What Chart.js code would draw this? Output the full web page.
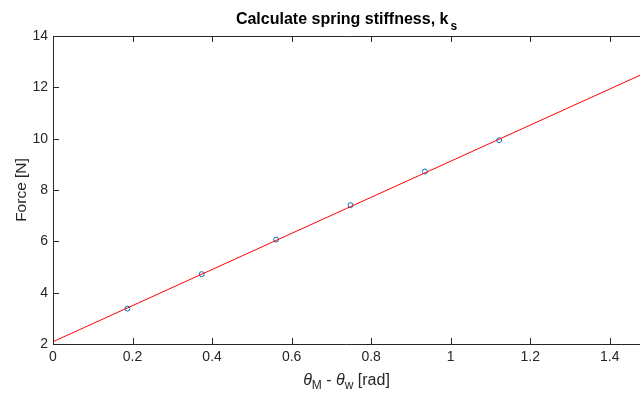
<!DOCTYPE html>
<html>
<head>
<meta charset="utf-8">
<script src="https://cdn.jsdelivr.net/npm/chart.js@4"></script>
<style>
  html, body { margin: 0; padding: 0; background: #fff; }
  #wrap { width: 640px; height: 395px; }
</style>
</head>
<body>
<div id="wrap"><canvas id="springChart"></canvas></div>
<script>
// measured points
const angleDiff = [0.187, 0.374, 0.561, 0.748, 0.935, 1.122];
const force = [3.38, 4.72, 6.07, 7.41, 8.72, 9.94];
// fitted line endpoints
const fitX = [0, 1.476];
const fitY = [2.09, 12.47];
const xTicks = [0, 0.2, 0.4, 0.6, 0.8, 1, 1.2, 1.4];
const yTicks = [2, 4, 6, 8, 10, 12, 14];

const axisColor = '#262626';
const font = '"Liberation Sans", Arial, Helvetica, sans-serif';

// draws box, inward ticks, title and axis labels the MATLAB way
const decorations = {
    id: 'decorations',
    afterDraw(chart) {
        const ctx = chart.ctx;
        const area = chart.chartArea;
        const x = chart.scales.x, y = chart.scales.y;
        ctx.save();
        ctx.strokeStyle = axisColor;
        ctx.lineWidth = 1;
        ctx.beginPath();
        ctx.moveTo(area.left + 0.5, area.top + 0.5);
        ctx.lineTo(area.right, area.top + 0.5);
        ctx.moveTo(area.left + 0.5, area.top);
        ctx.lineTo(area.left + 0.5, area.bottom + 0.5);
        ctx.lineTo(area.right, area.bottom + 0.5);
        xTicks.forEach(v => {
            const px = Math.round(x.getPixelForValue(v)) + 0.5;
            ctx.moveTo(px, area.bottom);
            ctx.lineTo(px, area.bottom - 6);
            ctx.moveTo(px, area.top);
            ctx.lineTo(px, area.top + 6);
        });
        yTicks.forEach(v => {
            const py = Math.round(y.getPixelForValue(v)) + 0.5;
            ctx.moveTo(area.left, py);
            ctx.lineTo(area.left + 6, py);
        });
        ctx.stroke();

        ctx.fillStyle = '#000';
        // title
        ctx.font = 'bold 16px ' + font;
        ctx.textBaseline = 'alphabetic';
        const main = 'Calculate spring stiffness, k';
        const sub = 's';
        const wMain = ctx.measureText(main).width;
        ctx.font = 'bold 12px ' + font;
        const wSub = ctx.measureText(sub).width;
        const tx = (area.left + area.right) / 2 - (wMain + wSub + 2) / 2;
        ctx.font = 'bold 16px ' + font;
        ctx.textAlign = 'left';
        ctx.fillText(main, tx, 24);
        ctx.font = 'bold 12px ' + font;
        ctx.fillText(sub, tx + wMain + 2, 30);

        // x label
        ctx.fillStyle = axisColor;
        const parts = [
            ['θ', 'italic 16px ' + font, 0],
            ['M', '12px ' + font, 4],
            [' - ', '16px ' + font, 0],
            ['θ', 'italic 16px ' + font, 0],
            ['w', '12px ' + font, 4],
            [' [rad]', '16px ' + font, 0]
        ];
        let total = 0;
        parts.forEach(p => { ctx.font = p[1]; total += ctx.measureText(p[0]).width; });
        let cx = (area.left + area.right) / 2 - total / 2;
        parts.forEach(p => {
            ctx.font = p[1];
            ctx.fillText(p[0], cx, 385 + p[2]);
            cx += ctx.measureText(p[0]).width;
        });

        // y label
        ctx.translate(26, (area.top + area.bottom) / 2);
        ctx.rotate(-Math.PI / 2);
        ctx.font = '15.5px ' + font;
        ctx.textAlign = 'center';
        ctx.fillText('Force [N]', 0, 0);
        ctx.restore();
    }
};

new Chart(document.getElementById('springChart'), {
    type: 'scatter',
    data: {
        datasets: [
            {
                label: 'Fit',
                type: 'line',
                data: fitX.map((v, i) => ({ x: v, y: fitY[i] })),
                borderColor: '#ff0000',
                borderWidth: 1,
                pointRadius: 0,
                fill: false
            },
            {
                label: 'Measured',
                data: angleDiff.map((v, i) => ({ x: v, y: force[i] })),
                borderColor: '#0072bd',
                backgroundColor: 'rgba(0,0,0,0)',
                pointRadius: 2.5,
                pointBorderWidth: 1
            }
        ]
    },
    options: {
        responsive: true,
        maintainAspectRatio: false,
        animation: false,
        layout: { autoPadding: false, padding: { top: 36, right: 0, left: 0, bottom: 0 } },
        plugins: {
            legend: { display: false },
            tooltip: { enabled: false }
        },
        scales: {
            x: {
                type: 'linear',
                min: 0,
                max: 1.476,
                afterBuildTicks: s => { s.ticks = xTicks.map(v => ({ value: v })); },
                afterFit: s => { s.height = 51; s.paddingLeft = 0; s.paddingRight = 0; },
                grid: { display: false, drawTicks: false },
                border: { display: false },
                ticks: {
                    color: axisColor,
                    font: { family: font, size: 14 },
                    padding: 5,
                    maxRotation: 0,
                    callback: v => String(v)
                }
            },
            y: {
                type: 'linear',
                min: 2,
                max: 14,
                afterBuildTicks: s => { s.ticks = yTicks.map(v => ({ value: v })); },
                afterFit: s => { s.width = 53; s.paddingTop = 0; s.paddingBottom = 0; },
                grid: { display: false, drawTicks: false },
                border: { display: false },
                ticks: {
                    color: axisColor,
                    font: { family: font, size: 14 },
                    padding: 5,
                    callback: v => String(v)
                }
            }
        }
    },
    plugins: [decorations]
});
</script>
</body>
</html>
